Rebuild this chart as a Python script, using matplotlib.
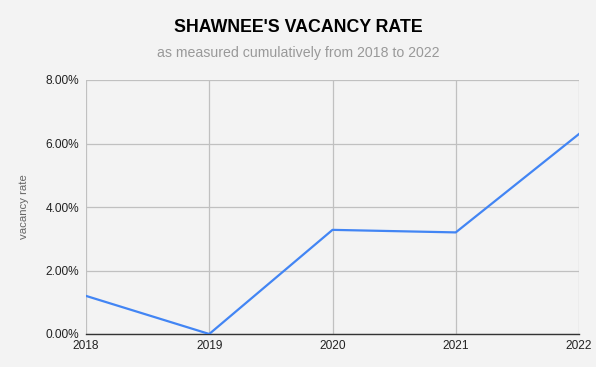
import matplotlib.pyplot as plt
from matplotlib.ticker import FuncFormatter

years = [2018, 2019, 2020, 2021, 2022]
vacancy = [1.2, 0.0, 3.28, 3.2, 6.3]
y_ticks = [0, 2, 4, 6, 8]

plt.rcParams['font.family'] = ['Liberation Sans', 'DejaVu Sans']

fig = plt.figure(figsize=(5.96, 3.67), dpi=100, facecolor='#f3f3f3')
ax = fig.add_axes([86/596, 1 - 334/367, (579-86)/596, (334-80)/367])
ax.set_facecolor('#f3f3f3')

ax.plot(years, vacancy, color='#4285f4', linewidth=1.6, zorder=3)

ax.set_xlim(2018, 2022)
ax.set_ylim(0, 8)
ax.set_xticks(years)
ax.set_yticks(y_ticks)
ax.yaxis.set_major_formatter(FuncFormatter(lambda v, p: '%.2f%%' % v))
ax.grid(True, color='#c0c0c0', linewidth=0.9)
ax.set_axisbelow(True)
for s in ['top', 'right', 'left']:
    ax.spines[s].set_visible(False)
ax.spines['bottom'].set_color('#333333')
ax.spines['bottom'].set_linewidth(1.0)
ax.tick_params(length=0, labelsize=8.6, colors='#222222', pad=5)
ax.tick_params(axis='x', pad=4)
ax.set_ylabel('vacancy rate', fontsize=8.2, color='#666666', labelpad=12)

fig.text(0.5, 1 - 28/367, "SHAWNEE'S VACANCY RATE", ha='center', va='center',
         fontsize=12.8, fontweight='bold', color='black')
fig.text(0.5, 1 - 53/367, 'as measured cumulatively from 2018 to 2022', ha='center',
         va='center', fontsize=10.2, color='#999999')

fig.savefig('out.png', dpi=100, facecolor=fig.get_facecolor())
